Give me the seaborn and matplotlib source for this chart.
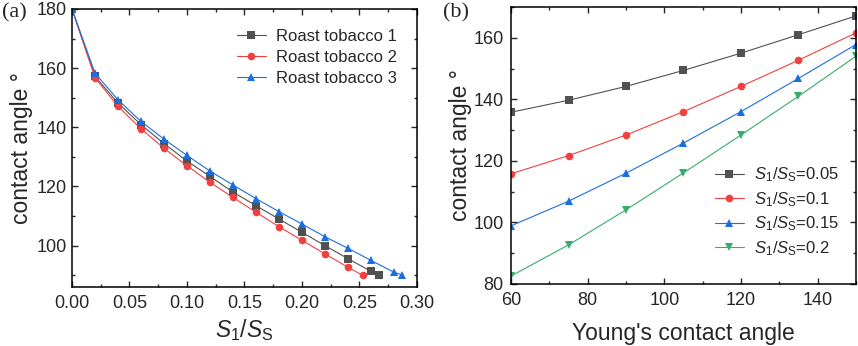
import matplotlib
matplotlib.use("Agg")
import matplotlib.pyplot as plt
import seaborn as sns
import pandas as pd
import numpy as np
from matplotlib.ticker import MultipleLocator, FormatStrFormatter

# ---- panel (a) data: contact angle vs S1/SS ----
x_rt1 = [0.0, 0.02, 0.04, 0.06, 0.08, 0.10, 0.12, 0.14, 0.16, 0.18, 0.20, 0.22, 0.24, 0.26, 0.267]
y_rt1 = [180, 157.2, 148.2, 140.9, 134.5, 128.6, 123.4, 118.1, 113.5, 109.0, 104.5, 100.0, 95.6, 91.3, 89.9]
x_rt2 = [0.0, 0.02, 0.04, 0.06, 0.08, 0.10, 0.12, 0.14, 0.16, 0.18, 0.20, 0.22, 0.24, 0.253]
y_rt2 = [180, 156.8, 147.1, 139.5, 132.9, 127.0, 121.4, 116.3, 111.3, 106.4, 101.8, 97.2, 92.7, 89.9]
x_rt3 = [0.0, 0.02, 0.04, 0.06, 0.08, 0.10, 0.12, 0.14, 0.16, 0.18, 0.20, 0.22, 0.24, 0.26, 0.28, 0.287]
y_rt3 = [180, 158.3, 149.3, 142.0, 136.0, 130.5, 125.2, 120.5, 115.9, 111.5, 107.3, 103.0, 99.1, 95.0, 91.0, 90.1]
labels_a = ["Roast tobacco 1", "Roast tobacco 2", "Roast tobacco 3"]

# ---- panel (b) data: contact angle vs Young's contact angle ----
young = [60, 75, 90, 105, 120, 135, 150]
y_005 = [135.8, 139.7, 144.2, 149.4, 155.0, 161.0, 167.1]
y_010 = [115.8, 121.7, 128.4, 136.0, 144.2, 152.7, 161.6]
y_015 = [98.9, 106.9, 116.0, 125.8, 136.0, 146.8, 157.8]
y_020 = [82.6, 92.7, 104.1, 116.1, 128.4, 141.0, 154.0]
labels_b = [r"$S_1$/$S_\mathrm{S}$=0.05", r"$S_1$/$S_\mathrm{S}$=0.1",
            r"$S_1$/$S_\mathrm{S}$=0.15", r"$S_1$/$S_\mathrm{S}$=0.2"]

colors = ["#515151", "#F14040", "#1A6FDF", "#37AD6B"]
markers = ["s", "o", "^", "v"]

sns.set_style("ticks")
plt.rcParams["font.family"] = ["Liberation Sans", "DejaVu Sans"]
plt.rcParams["mathtext.fontset"] = "custom"
plt.rcParams["mathtext.rm"] = "Liberation Sans"
plt.rcParams["mathtext.it"] = "Liberation Sans:italic"

df_a = pd.concat([
    pd.DataFrame({"x": x, "y": y, "series": lab})
    for x, y, lab in zip([x_rt1, x_rt2, x_rt3], [y_rt1, y_rt2, y_rt3], labels_a)
])
df_b = pd.concat([
    pd.DataFrame({"x": young, "y": y, "series": lab})
    for y, lab in zip([y_005, y_010, y_015, y_020], labels_b)
])

fig = plt.figure(figsize=(8.58, 3.46), dpi=100)
ax1 = fig.add_axes([0.0839, 0.1705, 0.402, 0.8035])
ax2 = fig.add_axes([0.5956, 0.1792, 0.402, 0.8006])


def draw(ax, df, labels):
    sns.lineplot(data=df, x="x", y="y", hue="series", style="series",
                 hue_order=labels, style_order=labels,
                 palette=colors[:len(labels)],
                 markers=markers[:len(labels)], dashes=False,
                 markersize=5.5, markeredgewidth=0, linewidth=0.8,
                 sort=False, estimator=None, ax=ax)


def style_axes(ax, ypad):
    for sp in ax.spines.values():
        sp.set_linewidth(1.1)
        sp.set_color("black")
    ax.tick_params(which="both", direction="in", top=True, right=True,
                   width=1.0, labelsize=13)
    ax.tick_params(axis="x", pad=6)
    ax.tick_params(axis="y", pad=ypad)
    ax.tick_params(which="major", length=4.5)
    ax.tick_params(which="minor", length=2.5)


draw(ax1, df_a, labels_a)
ax1.set_xlim(0, 0.30)
ax1.set_ylim(86, 180)
ax1.xaxis.set_major_locator(MultipleLocator(0.05))
ax1.xaxis.set_minor_locator(MultipleLocator(0.025))
ax1.yaxis.set_major_locator(MultipleLocator(20))
ax1.yaxis.set_minor_locator(MultipleLocator(10))
ax1.xaxis.set_major_formatter(FormatStrFormatter("%.2f"))
style_axes(ax1, 3.5)
ax1.set_xlabel(r"$S_1$/$S_\mathrm{S}$", fontsize=16.5, labelpad=3.5)
ax1.set_ylabel("contact angle °", fontsize=16.5, labelpad=3)
ax1.legend(loc="upper right", frameon=False, fontsize=12, handlelength=1.75,
           handletextpad=0.6, labelspacing=0.35, borderaxespad=0.8)

draw(ax2, df_b, labels_b)
ax2.set_xlim(60, 150)
ax2.set_ylim(80, 170)
ax2.xaxis.set_major_locator(MultipleLocator(20))
ax2.xaxis.set_minor_locator(MultipleLocator(10))
ax2.yaxis.set_major_locator(MultipleLocator(20))
ax2.yaxis.set_minor_locator(MultipleLocator(10))
style_axes(ax2, 5.5)
ax2.set_xlabel("Young's contact angle", fontsize=16.5, labelpad=9)
ax2.set_ylabel("contact angle °", fontsize=16.5, labelpad=1)
ax2.legend(loc="lower right", frameon=False, fontsize=12, handlelength=1.75,
           handletextpad=0.6, labelspacing=0.35, bbox_to_anchor=(0.995, 0.04))

fig.text(0.002, 0.95, "(a)", fontsize=16, family="Liberation Serif")
fig.text(0.516, 0.95, "(b)", fontsize=16, family="Liberation Serif")

fig.savefig("out.png", dpi=100)
